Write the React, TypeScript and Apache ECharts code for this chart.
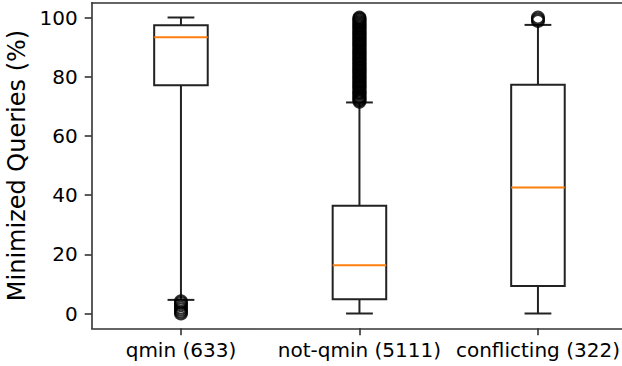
import React, { useEffect, useRef } from 'react';
import * as echarts from 'echarts';

const categories = ['qmin (633)', 'not-qmin (5111)', 'conflicting (322)'];
const whiskerLow = [4.6, 0, 0];
const q1 = [77.1, 4.8, 9.3];
const median = [93.3, 16.3, 42.6];
const q3 = [97.4, 36.4, 77.3];
const whiskerHigh = [100, 71.3, 97.5];

const qminOutliers = [0, 0.6, 1.3, 2.0, 2.8, 3.5, 4.1];
const notQminOutliers = [
  71.6, 72.1, 72.5, 73.0, 73.3, 73.9, 74.4, 74.7, 75.0, 75.6, 76.2, 76.5, 76.9, 77.4,
  77.8, 78.3, 78.6, 79.2, 79.6, 80.0, 80.4, 80.9, 81.3, 81.8, 82.1, 82.6, 83.0, 83.3,
  83.9, 84.4, 84.6, 85.2, 85.7, 86.0, 86.5, 86.9, 87.4, 87.8, 88.2, 88.6, 89.1, 89.5,
  90.0, 90.5, 90.9, 91.3, 91.7, 92.3, 92.6, 93.1, 93.5, 94.0, 94.4, 94.8, 95.2, 95.7,
  96.1, 96.6, 97.0, 97.4, 97.9, 98.3, 98.7, 99.2, 99.6, 100,
];
const conflictingOutliers = [98.8, 99.4, 100];

const yTicks = [0, 20, 40, 60, 80, 100];

const FONT = 'DejaVu Sans';
const AXIS_COLOR = '#333';
const BOX_COLOR = '#222';
const MEDIAN_COLOR = '#ff7f0e';
const TEXT_COLOR = '#000';

export default function App() {
  const ref = useRef<HTMLDivElement>(null);

  useEffect(() => {
    document.body.style.margin = '0';
    if (!ref.current) return;
    const chart = echarts.init(ref.current, null, { renderer: 'svg' });

    const boxData = categories.map((_, i) => [i, whiskerLow[i], q1[i], median[i], q3[i], whiskerHigh[i]]);
    const outlierData = [
      ...qminOutliers.map((v) => [0, v]),
      ...notQminOutliers.map((v) => [1, v]),
      ...conflictingOutliers.map((v) => [2, v]),
    ];

    const lineStyle = { color: AXIS_COLOR, width: 1.6 };

    chart.setOption({
      animation: false,
      backgroundColor: '#fff',
      grid: {
        left: 91.7,
        top: 2.7,
        width: 535.5,
        height: 325.6,
        show: false,
        containLabel: false,
        outerBoundsMode: 'none',
      },
      xAxis: [
        {
          type: 'category',
          data: categories,
          boundaryGap: true,
          position: 'bottom',
          axisLine: { show: true, onZero: false, lineStyle },
          axisTick: { show: true, alignWithLabel: true, length: 7, lineStyle },
          axisLabel: { fontSize: 20, margin: 12, color: TEXT_COLOR, fontFamily: FONT, interval: 0 },
          splitLine: { show: false },
        },
        {
          type: 'category',
          data: categories,
          position: 'top',
          axisLine: { show: true, onZero: false, lineStyle },
          axisTick: { show: false },
          axisLabel: { show: false },
          splitLine: { show: false },
        },
      ],
      yAxis: {
        type: 'value',
        min: -5,
        max: 105,
        name: 'Minimized Queries (%)',
        nameLocation: 'middle',
        nameGap: 60,
        nameTextStyle: { fontSize: 24, fontFamily: FONT, color: TEXT_COLOR },
        axisLine: { show: true, onZero: false, lineStyle },
        axisTick: { show: true, length: 7, lineStyle, customValues: yTicks },
        axisLabel: { fontSize: 20, margin: 14, color: TEXT_COLOR, fontFamily: FONT, customValues: yTicks },
        splitLine: { show: false },
      },
      series: [
        {
          type: 'custom',
          data: boxData,
          encode: { x: 0, y: [1, 2, 3, 4, 5] },
          clip: false,
          renderItem: (params: any, api: any) => {
            const idx = api.value(0);
            const lo = api.coord([idx, api.value(1)]);
            const b1 = api.coord([idx, api.value(2)]);
            const md = api.coord([idx, api.value(3)]);
            const b3 = api.coord([idx, api.value(4)]);
            const hi = api.coord([idx, api.value(5)]);
            const band = api.size([1, 0])[0];
            const bw = band * 0.3;
            const cw = bw / 2;
            const cx = lo[0];
            const st = { stroke: BOX_COLOR, lineWidth: 2, fill: 'none' };
            return {
              type: 'group',
              children: [
                { type: 'line', shape: { x1: cx, y1: b3[1], x2: cx, y2: hi[1] }, style: st },
                { type: 'line', shape: { x1: cx, y1: b1[1], x2: cx, y2: lo[1] }, style: st },
                { type: 'line', shape: { x1: cx - cw / 2, y1: hi[1], x2: cx + cw / 2, y2: hi[1] }, style: st },
                { type: 'line', shape: { x1: cx - cw / 2, y1: lo[1], x2: cx + cw / 2, y2: lo[1] }, style: st },
                { type: 'rect', shape: { x: cx - bw / 2, y: b3[1], width: bw, height: b1[1] - b3[1] }, style: st },
                { type: 'line', shape: { x1: cx - bw / 2, y1: md[1], x2: cx + bw / 2, y2: md[1] }, style: { stroke: MEDIAN_COLOR, lineWidth: 2 } },
              ],
            };
          },
        },
        {
          type: 'scatter',
          data: outlierData,
          symbol: 'circle',
          symbolSize: 12,
          itemStyle: { color: 'rgba(0,0,0,0)', borderColor: '#000', borderWidth: 2 },
          clip: false,
        },
      ],
    });

    return () => chart.dispose();
  }, []);

  return <div ref={ref} style={{ width: 622, height: 366 }} />;
}
